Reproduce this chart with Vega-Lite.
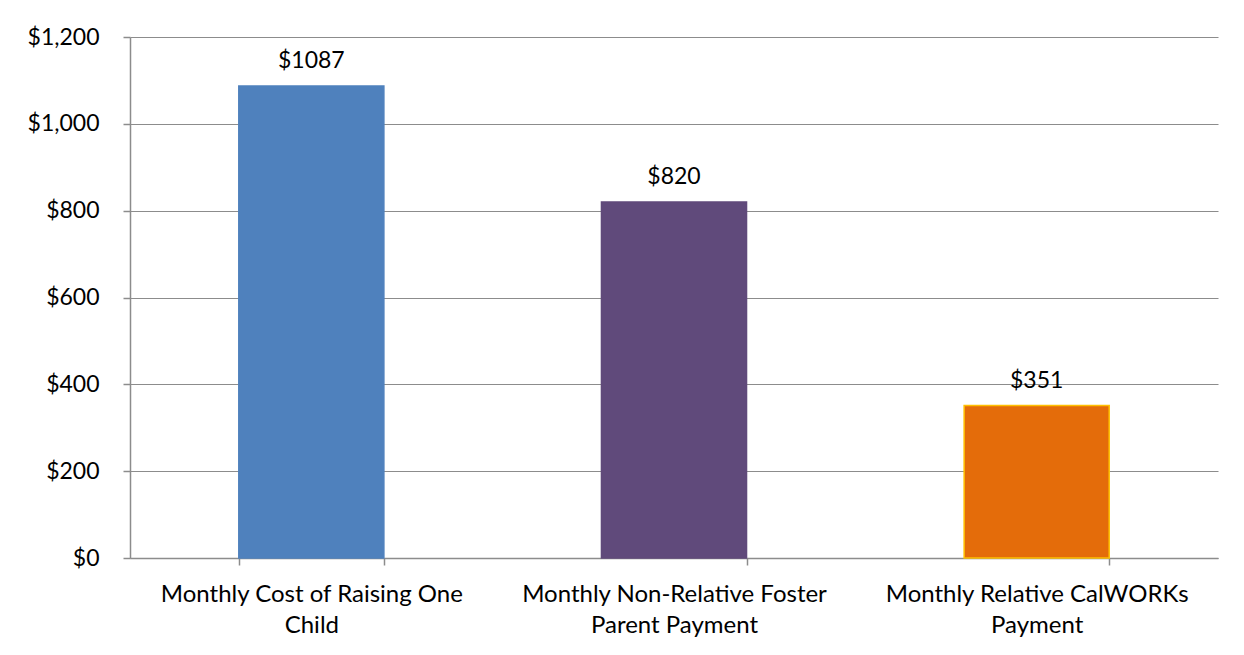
{
  "$schema": "https://vega.github.io/schema/vega-lite/v6.json",
  "width": 1088,
  "height": 521,
  "autosize": {"type": "none"},
  "padding": {"left": 130, "top": 37, "right": 26, "bottom": 97},
  "background": "white",
  "config": {
    "view": {"stroke": null},
    "font": "Lato"
  },
  "data": {
    "values": [
      {"category": "Monthly Cost of Raising One|Child", "value": 1087, "color": "#4F81BD", "stroke": "#4F81BD"},
      {"category": "Monthly Non-Relative Foster|Parent Payment", "value": 820, "color": "#604A7B", "stroke": "#604A7B"},
      {"category": "Monthly Relative CalWORKs|Payment", "value": 351, "color": "#E46C0A", "stroke": "#FFC000"}
    ]
  },
  "encoding": {
    "x": {
      "field": "category",
      "type": "nominal",
      "sort": null,
      "scale": {"paddingInner": 0.6, "paddingOuter": 0.3},
      "axis": {
        "title": null,
        "labelAngle": 0,
        "labelExpr": "split(datum.label, '|')",
        "labelFont": "Lato",
        "labelFontSize": 24,
        "labelColor": "#000000",
        "labelLineHeight": 31,
        "labelPadding": 17,
        "labelLimit": 0,
        "tickBand": "extent",
        "tickSize": 7,
        "tickColor": "#8c8c8c",
        "domainColor": "#8c8c8c",
        "domainWidth": 1.5,
        "tickWidth": 1.5
      }
    },
    "y": {
      "field": "value",
      "type": "quantitative",
      "scale": {"domain": [0, 1200]},
      "axis": {
        "title": null,
        "values": [0, 200, 400, 600, 800, 1000, 1200],
        "format": "$,d",
        "labelFont": "Lato",
        "labelFontSize": 23,
        "labelColor": "#000000",
        "labelPadding": 24,
        "labelLimit": 0,
        "tickSize": 7,
        "tickColor": "#8c8c8c",
        "domainColor": "#8c8c8c",
        "domainWidth": 1.5,
        "tickWidth": 1.5,
        "grid": true,
        "gridColor": "#8c8c8c",
        "gridWidth": 1.2
      }
    }
  },
  "layer": [
    {
      "mark": {"type": "bar", "strokeWidth": 1.5},
      "encoding": {
        "color": {"field": "color", "type": "nominal", "scale": null, "legend": null},
        "stroke": {"field": "stroke", "type": "nominal", "scale": null, "legend": null}
      }
    },
    {
      "mark": {"type": "text", "baseline": "alphabetic", "dy": -18, "font": "Lato", "fontSize": 23, "color": "#000000"},
      "encoding": {
        "text": {"field": "value", "type": "quantitative", "format": "$d"}
      }
    }
  ]
}
